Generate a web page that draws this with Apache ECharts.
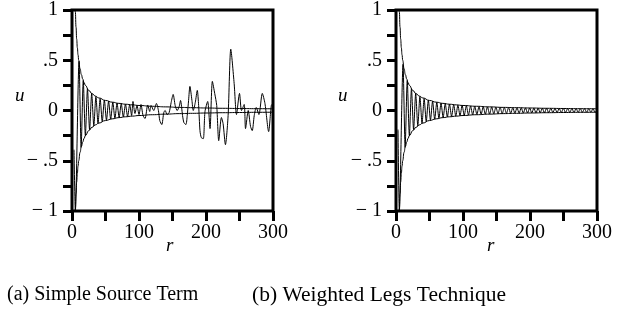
<!DOCTYPE html>
<html>
<head>
<meta charset="utf-8">
<script src="https://cdn.jsdelivr.net/npm/echarts@6/dist/echarts.min.js"></script>
<style>html,body{margin:0;padding:0;background:#fff;}#c{width:630px;height:320px;}</style>
</head>
<body>
<div id="c"></div>
<script>
// ---- data ----
const xTickValues = [0, 100, 200, 300];
const xTickText = ['0', '100', '200', '300'];
const yTickValues = [1, 0.5, 0, -0.5, -1];
const yTickText = ['1', '.5', '0', '\u2212 .5', '\u2212 1'];

const envR = [4.5, 5, 6, 7, 8, 9, 10, 12, 14, 16, 18, 20, 25, 30, 35, 40, 50, 60, 70, 80, 90, 100, 120, 140, 160, 180, 200, 225, 250, 275, 300];
const envUpper = [1.05, 0.98, 0.83, 0.71, 0.625, 0.555, 0.5, 0.417, 0.357, 0.313, 0.278, 0.25, 0.2, 0.167, 0.143, 0.125, 0.1, 0.083, 0.071, 0.0625, 0.056, 0.05, 0.042, 0.036, 0.031, 0.028, 0.025, 0.022, 0.02, 0.018, 0.017];
const envLower = [-1.05, -0.98, -0.83, -0.71, -0.625, -0.555, -0.5, -0.417, -0.357, -0.313, -0.278, -0.25, -0.2, -0.167, -0.143, -0.125, -0.1, -0.083, -0.071, -0.0625, -0.056, -0.05, -0.042, -0.036, -0.031, -0.028, -0.025, -0.022, -0.02, -0.018, -0.017];

// (a) Simple Source Term
const oscA_r = [3, 5, 10.5, 13.65, 16.8, 19.95, 23.1, 26.25, 29.4, 32.55, 35.7, 38.85, 42, 45.15, 48.3, 51.45, 54.6, 57.75, 60.9, 64.05, 67.2, 70.35, 73.5, 76.65, 79.8, 82.95, 86.1,
  89, 91, 94, 97, 100, 103, 106, 109, 113, 116,
  118, 122, 126, 129, 131, 134, 137, 139, 142, 145,
  148, 151, 154, 157, 160, 162, 165, 167, 170, 172,
  174, 176, 179, 181, 184, 187, 189, 191, 193, 196,
  198.5, 202.5, 206, 209.5, 213, 216, 219, 223, 225.5, 229,
  233, 237, 242, 245.5, 250, 253, 257, 259, 263, 266.5,
  269, 272, 275, 279, 284, 288, 293.5, 297.5, 300];
const oscA_u = [-0.39, -1.0, 0.49, -0.366, 0.298, -0.251, 0.216, -0.19, 0.17, -0.154, 0.14, -0.129, 0.119, -0.111, 0.104, -0.097, 0.092, -0.087, 0.082, -0.078, 0.074, -0.071, 0.068, -0.065, 0.063, -0.06, 0.058,
  -0.05, 0.09, -0.03, 0.05, -0.04, 0.06, -0.05, -0.08, 0.055, -0.01,
  0.05, 0.0, 0.07, 0.0, -0.1, -0.14, -0.02, 0.0, -0.04, -0.02,
  0.08, 0.16, 0.05, 0.0, 0.04, 0.1, -0.05, -0.12, -0.14, -0.05,
  0.1, 0.24, 0.1, 0.0, 0.08, 0.2, 0.05, -0.2, -0.27, -0.28,
  -0.01, 0.09, -0.18, 0.29, 0.17, 0.05, -0.3, -0.07, -0.13, -0.34,
  -0.05, 0.61, 0.27, -0.04, 0.17, 0.0, 0.06, -0.18, 0.0, -0.16,
  -0.2, -0.05, 0.03, -0.04, 0.17, 0.07, -0.21, 0.05, 0.07];

// (b) Weighted Legs Technique
const oscB_r = [3, 5,
  10.5, 13.65, 16.8, 19.95, 23.1, 26.25, 29.4, 32.55, 35.7, 38.85,
  42, 45.15, 48.3, 51.45, 54.6, 57.75, 60.9, 64.05, 67.2, 70.35,
  73.5, 76.65, 79.8, 82.95, 86.1, 89.25, 92.4, 95.55, 98.7, 101.85,
  105, 108.15, 111.3, 114.45, 117.6, 120.75, 123.9, 127.05, 130.2, 133.35,
  136.5, 139.65, 142.8, 145.95, 149.1, 152.25, 155.4, 158.55, 161.7, 164.85,
  168, 171.15, 174.3, 177.45, 180.6, 183.75, 186.9, 190.05, 193.2, 196.35,
  199.5, 202.65, 205.8, 208.95, 212.1, 215.25, 218.4, 221.55, 224.7, 227.85,
  231, 234.15, 237.3, 240.45, 243.6, 246.75, 249.9, 253.05, 256.2, 259.35,
  262.5, 265.65, 268.8, 271.95, 275.1, 278.25, 281.4, 284.55, 287.7, 290.85,
  294, 297.15, 300];
const oscB_u = [-0.19, -1.0,
  0.46, -0.366, 0.298, -0.251, 0.216, -0.19, 0.17, -0.154, 0.14, -0.129,
  0.119, -0.111, 0.104, -0.097, 0.092, -0.087, 0.082, -0.078, 0.074, -0.071,
  0.068, -0.065, 0.063, -0.06, 0.058, -0.056, 0.054, -0.052, 0.051, -0.049,
  0.048, -0.046, 0.045, -0.044, 0.043, -0.041, 0.04, -0.039, 0.038, -0.037,
  0.037, -0.036, 0.035, -0.034, 0.034, -0.033, 0.032, -0.032, 0.031, -0.03,
  0.03, -0.029, 0.029, -0.028, 0.028, -0.027, 0.027, -0.026, 0.026, -0.025,
  0.025, -0.025, 0.024, -0.024, 0.024, -0.023, 0.023, -0.023, 0.022, -0.022,
  0.022, -0.021, 0.021, -0.021, 0.021, -0.02, 0.02, -0.02, 0.02, -0.019,
  0.019, -0.019, 0.019, -0.018, 0.018, -0.018, 0.018, -0.018, 0.017, -0.017,
  0.017, -0.017, 0.0];

const captions = ['(a) Simple Source Term', '(b) Weighted Legs Technique'];
const axisNameX = 'r';
const axisNameY = 'u';

// ---- build ----
function zip(a, b) { const n = Math.min(a.length, b.length); const o = []; for (let i = 0; i < n; i++) o.push([a[i], b[i]]); return o; }
const FONT = "'Liberation Serif', 'Times New Roman', serif";

const grids = [
  { left: 72, top: 10, width: 201, height: 201 },
  { left: 396, top: 10, width: 201, height: 201 }
];

function xAx(gi) {
  return {
    type: 'value', gridIndex: gi, min: 0, max: 300, interval: 50,
    axisLine: { show: false, onZero: false },
    splitLine: { show: false },
    axisTick: { show: true, inside: false, length: 10, lineStyle: { color: '#000', width: 3 } },
    axisLabel: {
      margin: 12, color: '#000', fontFamily: FONT, fontSize: 20,
      formatter: v => { const i = xTickValues.indexOf(v); return i >= 0 ? xTickText[i] : ''; }
    }
  };
}
function yAx(gi) {
  return {
    type: 'value', gridIndex: gi, min: -1, max: 1, interval: 0.25,
    axisLine: { show: false, onZero: false },
    splitLine: { show: false },
    axisTick: { show: true, inside: false, length: 9, lineStyle: { color: '#000', width: 3 } },
    axisLabel: {
      margin: 14, color: '#000', fontFamily: FONT, fontSize: 20,
      formatter: v => { const i = yTickValues.indexOf(v); return i >= 0 ? yTickText[i] : ''; }
    }
  };
}
const lineBase = { type: 'line', showSymbol: false, symbol: 'none', animation: false, clip: true };
function env(gi, vals) {
  return Object.assign({}, lineBase, { xAxisIndex: gi, yAxisIndex: gi, data: zip(envR, vals), smooth: 0.5, smoothMonotone: 'x', lineStyle: { color: '#000', width: 1 } });
}
function osc(gi, r, u, sm) {
  return Object.assign({}, lineBase, { xAxisIndex: gi, yAxisIndex: gi, data: zip(r, u), smooth: sm, lineStyle: { color: '#000', width: 1 } });
}

const chart = echarts.init(document.getElementById('c'), null, { renderer: 'canvas' });
chart.setOption({
  animation: false,
  backgroundColor: '#fff',
  grid: grids.map(g => Object.assign({ show: true, borderColor: '#000', borderWidth: 3, backgroundColor: 'transparent' }, g)),
  xAxis: [xAx(0), xAx(1)],
  yAxis: [yAx(0), yAx(1)],
  series: [
    env(0, envUpper), env(0, envLower), osc(0, oscA_r, oscA_u, 0.25),
    env(1, envUpper), env(1, envLower), osc(1, oscB_r, oscB_u, 0.25)
  ],
  graphic: [
    { type: 'text', left: 15, top: 86, style: { text: axisNameY, font: "italic 19px " + FONT, fill: '#000' } },
    { type: 'text', left: 338, top: 86, style: { text: axisNameY, font: "italic 19px " + FONT, fill: '#000' } },
    { type: 'text', left: 166, top: 236, style: { text: axisNameX, font: "italic 19px " + FONT, fill: '#000' } },
    { type: 'text', left: 487, top: 236, style: { text: axisNameX, font: "italic 19px " + FONT, fill: '#000' } },
    { type: 'text', left: 7, top: 285, style: { text: captions[0], font: "20px " + FONT, fill: '#000' } },
    { type: 'text', left: 252, top: 284, style: { text: captions[1], font: "21.5px " + FONT, fill: '#000' } }
  ]
});
</script>
</body>
</html>
